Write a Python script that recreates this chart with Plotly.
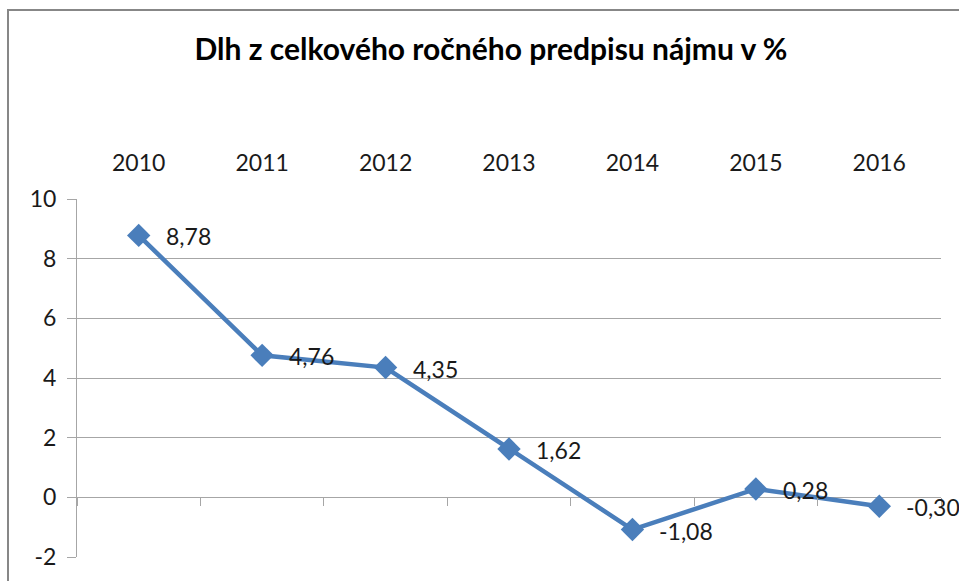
import plotly.graph_objects as go

years = ["2010", "2011", "2012", "2013", "2014", "2015", "2016"]
values = [8.78, 4.76, 4.35, 1.62, -1.08, 0.28, -0.30]
y_ticks = [-2, 0, 2, 4, 6, 8, 10]
y_tick_labels = ["-2", "0", "2", "4", "6", "8", "10"]
title_text = "Dlh z celkového ročného predpisu nájmu v %"

labels = [f"{v:.2f}".replace(".", ",") for v in values]

W, H = 959, 581
ML, MR, MT, MB = 77, 18, 199, 24
pw, ph = W - ML - MR, H - MT - MB

FONT = "Lato"
BLUE = "#4A7EBB"
GRID = "#A6A6A6"
TXT = "#1a1a1a"

fig = go.Figure()
fig.add_trace(go.Scatter(
    x=years, y=values, mode="lines+markers",
    line=dict(color=BLUE, width=4.5),
    marker=dict(symbol="diamond", size=18, color=BLUE),
    cliponaxis=False, showlegend=False, hoverinfo="skip",
))
# invisible helper trace for the tick axis on the zero line
fig.add_trace(go.Scatter(
    x=years, y=values, xaxis="x2", mode="markers",
    marker=dict(opacity=0), showlegend=False, hoverinfo="skip",
))

annotations = [
    dict(x=i, y=v, text=lab, showarrow=False, xref="x", yref="y",
         xanchor="left", yanchor="middle", xshift=25, yshift=-1,
         font=dict(family=FONT, size=23, color=TXT))
    for i, (v, lab) in enumerate(zip(values, labels))
]

ymin, ymax = y_ticks[0], y_ticks[-1]
zero_frac = (0 - ymin) / (ymax - ymin)

fig.update_layout(
    width=W, height=H,
    margin=dict(l=ML, r=MR, t=MT, b=MB, pad=0),
    paper_bgcolor="white", plot_bgcolor="white",
    separators=",.",
    font=dict(family=FONT, size=23, color=TXT),
    title=dict(text=f"<b>{title_text}</b>", x=491 / W, xanchor="center",
               y=1 - 49 / H, yanchor="middle", yref="container",
               font=dict(family=FONT, size=30, color="#000000")),
    xaxis=dict(type="category", categoryorder="array", categoryarray=years,
               side="top", range=[-0.5, len(years) - 0.5],
               showgrid=False, showline=False, zeroline=False, ticks="",
               ticklabelstandoff=22,
               tickfont=dict(family=FONT, size=23, color=TXT)),
    xaxis2=dict(type="category", categoryorder="array", categoryarray=years,
                overlaying="x", anchor="free", position=zero_frac,
                range=[-0.5, len(years) - 0.5], tickson="boundaries",
                ticks="outside", ticklen=8, tickwidth=1, tickcolor=GRID,
                showticklabels=False, showgrid=False, showline=False,
                zeroline=False),
    yaxis=dict(range=[ymin, ymax], tickvals=y_ticks, ticktext=y_tick_labels,
               showgrid=True, gridcolor=GRID, gridwidth=1,
               showline=True, linecolor=GRID, linewidth=1,
               zeroline=False, ticks="outside", ticklen=9, tickcolor=GRID,
               ticklabelstandoff=6,
               tickfont=dict(family=FONT, size=23, color=TXT)),
    annotations=annotations,
    shapes=[dict(type="rect", xref="paper", yref="paper",
                 x0=(8 - ML) / pw, x1=1.3, y0=-0.5, y1=(H - MB - 10) / ph,
                 line=dict(color="#878787", width=2), layer="below")],
)

fig.write_html(
    "out.html",
    config={"displayModeBar": False},
    post_script="document.body.style.margin='0';document.body.style.overflow='hidden';",
)
